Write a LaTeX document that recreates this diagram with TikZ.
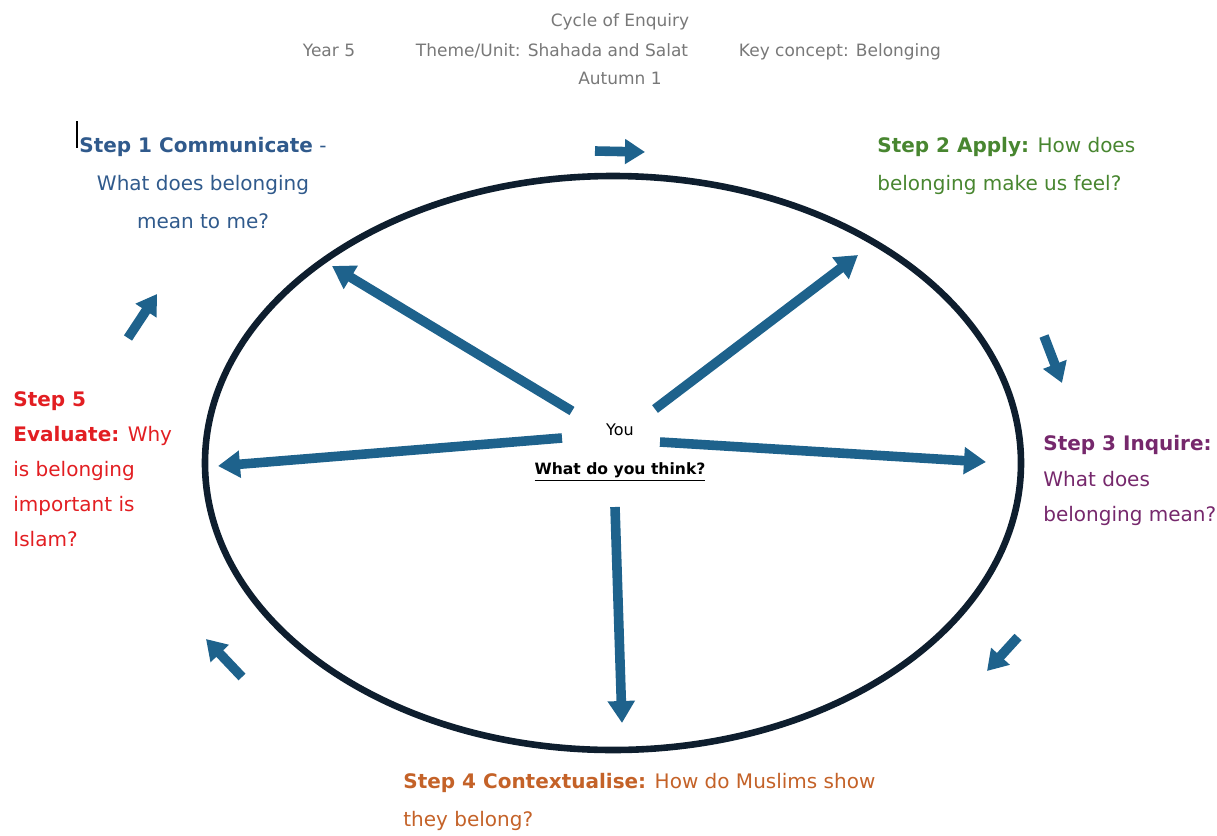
\documentclass[tikz,border=0pt]{standalone}
\usepackage{fontspec}
\setmainfont{DejaVu Sans}
\usetikzlibrary{arrows.meta}

\definecolor{ringnavy}{RGB}{14,30,46}
\definecolor{spokeblue}{RGB}{30,98,140}
\definecolor{headgrey}{RGB}{120,120,120}
\definecolor{stepone}{RGB}{48,90,140}
\definecolor{steptwo}{RGB}{72,134,48}
\definecolor{stepthree}{RGB}{118,40,108}
\definecolor{stepfour}{RGB}{196,98,40}
\definecolor{stepfive}{RGB}{226,30,34}

\tikzset{
	spoke/.style={line width=4.8pt, color=spokeblue, -{Triangle[length=11pt,width=13pt]}},
	turn/.style={line width=4.8pt, color=spokeblue, -{Triangle[length=10pt,width=12pt]}},
	header/.style={inner sep=0pt, anchor=base, color=headgrey, font=\fontsize{8.5}{10}\selectfont},
	steptext/.style={inner sep=0pt, align=left, font=\fontsize{10}{19}\selectfont},
}

\begin{document}
\begin{tikzpicture}[x=0.5pt, y=-0.5pt]
			%%%%% START %%%%%
			\useasboundingbox (0,0) rectangle (1217,836);
			
			\node[header] (title) at (620,26) {Cycle of Enquiry};
			\node[header] (year) at (329,56) {Year 5};
			\node[header] (theme) at (552,56) {Theme/Unit: Shahada and Salat};
			\node[header] (concept) at (840,56) {Key concept: Belonging};
			\node[header] (term) at (620,84) {Autumn 1};
			
			\draw[line width=0.6pt] (77,121) -- (77,148);
			
			\draw[line width=3.3pt, color=ringnavy] (613,463) ellipse (408 and 287);
			
			\node[inner sep=0pt, font=\fontsize{8}{10}\selectfont] (you) at (620,430) {You};
			\node[inner sep=0pt, font=\bfseries\fontsize{7.8}{10}\selectfont] (think) at (620,472) {\underline{What do you think?}};
			
			\coordinate (hub1) at (572,411);
			\coordinate (tip1) at (332,266);
			\coordinate (hub2) at (655,409);
			\coordinate (tip2) at (858,255);
			\coordinate (hub3) at (660,442);
			\coordinate (tip3) at (986,462);
			\coordinate (hub4) at (615,507);
			\coordinate (tip4) at (622,723);
			\coordinate (hub5) at (562,438);
			\coordinate (tip5) at (218,466);
			
			\draw[spoke] (hub1) -- (tip1);
			\draw[spoke] (hub2) -- (tip2);
			\draw[spoke] (hub3) -- (tip3);
			\draw[spoke] (hub4) -- (tip4);
			\draw[spoke] (hub5) -- (tip5);
			
			\coordinate (turn1a) at (595,151);
			\coordinate (turn1b) at (645,152);
			\coordinate (turn2a) at (1044,336);
			\coordinate (turn2b) at (1062,383);
			\coordinate (turn3a) at (1018,637);
			\coordinate (turn3b) at (987,671);
			\coordinate (turn4a) at (242,677);
			\coordinate (turn4b) at (206,639);
			\coordinate (turn5a) at (128,338);
			\coordinate (turn5b) at (157,294);
			
			\draw[turn] (turn1a) -- (turn1b);
			\draw[turn] (turn2a) -- (turn2b);
			\draw[turn] (turn3a) -- (turn3b);
			\draw[turn] (turn4a) -- (turn4b);
			\draw[turn] (turn5a) -- (turn5b);
			
			\node[steptext, align=center, anchor=north, color=stepone] (communicate) at (203,137)
				{\textbf{Step 1 Communicate} -\\What does belonging\\mean to me?};
			\node[steptext, anchor=north west, color=steptwo] (apply) at (877,137)
				{\textbf{Step 2 Apply:} How does\\belonging make us feel?};
			\node[steptext, anchor=north west, color=stepthree, font=\fontsize{10}{17.7}\selectfont] (inquire) at (1043,435)
				{\textbf{Step 3 Inquire:}\\What does\\belonging mean?};
			\node[steptext, anchor=north west, color=stepfour] (contextualise) at (403,773)
				{\textbf{Step 4 Contextualise:} How do Muslims show\\they belong?};
			\node[steptext, anchor=north west, color=stepfive, font=\fontsize{10}{17.5}\selectfont] (evaluate) at (13,391)
				{\textbf{Step 5}\\\textbf{Evaluate:} Why\\is belonging\\important is\\Islam?};
			
			%%%%% END %%%%%
\end{tikzpicture}
\end{document}
